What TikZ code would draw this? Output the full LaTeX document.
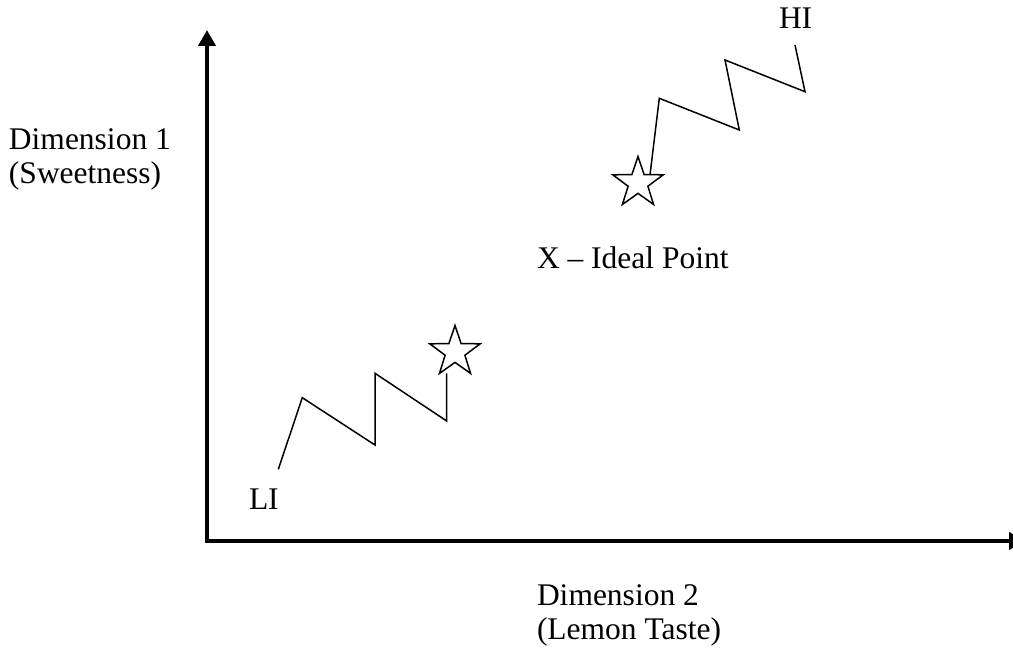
\documentclass[tikz,border=0pt]{standalone}
\usepackage{fontspec}
\setmainfont{Liberation Serif}
\usetikzlibrary{arrows.meta,shapes.geometric}
\begin{document}
\begin{tikzpicture}[x=1pt,y=-1pt,
  lbl/.style={inner sep=0pt,outer sep=0pt,align=left,font=\fontsize{31.5}{34}\selectfont},
  axisline/.style={line width=4pt,miter limit=10,{Triangle[length=16pt,width=17pt]}-{Triangle[length=16pt,width=17pt]}},
  zig/.style={line width=1.5pt,line join=miter},
  starmark/.style={star,star points=5,star point ratio=2.55,minimum size=53pt,inner sep=0pt,draw,line width=1.5pt,fill=white}]
\useasboundingbox (0,0) rectangle (1013,652);
% axes
\coordinate (ytip) at (207,30);
\coordinate (origin) at (207,541);
\coordinate (xtip) at (1025,541);
\draw[axisline] (ytip) -- (origin) -- (xtip);
% stars
\node[starmark] (s1) at (455,352) {};
\node[starmark] (s2) at (638,183) {};
% lower zigzag
\coordinate (a0) at (278.3,469.3);
\coordinate (a1) at (302.3,397.7);
\coordinate (a2) at (375,445);
\coordinate (a3) at (375,373.3);
\coordinate (a4) at (446.7,421);
\coordinate (a5) at (446.7,373.3);
\draw[zig] (a0) -- (a1) -- (a2) -- (a3) -- (a4) -- (a5);
% upper zigzag
\coordinate (b0) at (650,175);
\coordinate (b1) at (659.3,98.3);
\coordinate (b2) at (739.3,130);
\coordinate (b3) at (725,60);
\coordinate (b4) at (805,91.7);
\coordinate (b5) at (795,45);
\draw[zig] (b0) -- (b1) -- (b2) -- (b3) -- (b4) -- (b5);
% labels
\node[lbl,anchor=base west] (dim1) at (9,184) {Dimension 1\\(Sweetness)};
\node[lbl,anchor=base west] (dim2) at (537,639) {Dimension 2\\(Lemon Taste)};
\node[lbl,anchor=base west] (ideal) at (537,269) {X – Ideal Point};
\node[lbl,anchor=base west] (hi) at (779,29) {HI};
\node[lbl,anchor=base west] (li) at (249,509) {LI};
\end{tikzpicture}
\end{document}
